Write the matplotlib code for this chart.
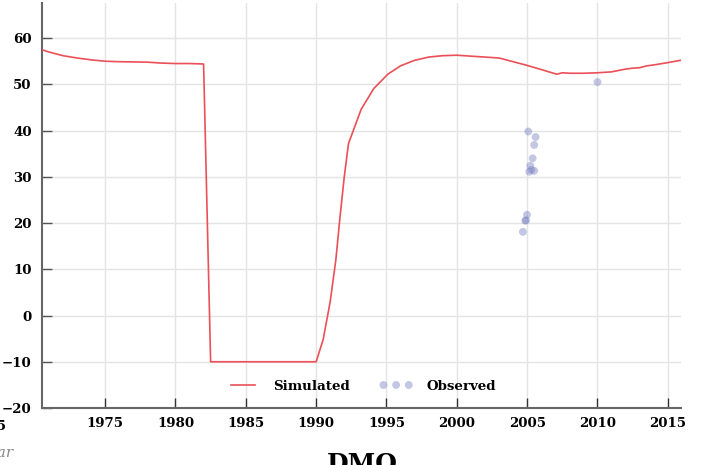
import matplotlib
matplotlib.use('Agg')
import matplotlib.pyplot as plt
from matplotlib.lines import Line2D
from matplotlib.legend_handler import HandlerLine2D

# simulated series (decimal years)
sim_year = [1970.5, 1971.0, 1971.5, 1972.0, 1973.0, 1974.0, 1975.0, 1976.0,
            1978.0, 1979.0, 1980.0, 1981.0, 1982.0, 1982.5, 1984.0, 1986.0,
            1988.0, 1990.0, 1990.5, 1991.0, 1991.4, 1991.7, 1992.0, 1992.3,
            1993.2, 1994.1, 1995.1, 1996.0, 1997.0, 1998.0, 1999.0, 2000.0,
            2001.0, 2002.0, 2003.0, 2004.0, 2005.0, 2006.0, 2007.1, 2007.5,
            2008.0, 2009.0, 2010.0, 2011.0, 2012.0, 2012.5, 2013.0, 2013.5,
            2014.0, 2015.0, 2015.9]
sim_value = [57.5, 57.0, 56.6, 56.2, 55.7, 55.3, 55.0, 54.9,
             54.8, 54.6, 54.5, 54.5, 54.4, -10.0, -10.0, -10.0,
             -10.0, -10.0, -5.2, 3.0, 12.0, 21.4, 30.0, 37.2,
             44.6, 49.1, 52.2, 54.0, 55.2, 55.9, 56.2, 56.3,
             56.1, 55.9, 55.7, 54.9, 54.1, 53.2, 52.2, 52.5,
             52.4, 52.4, 52.5, 52.7, 53.3, 53.5, 53.6, 54.0,
             54.2, 54.7, 55.2]

# observed points
obs_year = [2005.08, 2005.6, 2005.5, 2005.39, 2005.22, 2005.15, 2005.3,
            2005.5, 2004.99, 2004.87, 2004.92, 2004.7, 2010.0]
obs_value = [39.8, 38.6, 36.9, 34.0, 32.4, 31.1, 31.5,
             31.3, 21.8, 20.5, 20.6, 18.1, 50.5]

x_ticks = [1975, 1980, 1985, 1990, 1995, 2000, 2005, 2010, 2015]
y_ticks = [-20, -10, 0, 10, 20, 30, 40, 50, 60]

plt.rcParams['font.family'] = ['DejaVu Serif']
plt.rcParams['font.weight'] = 'bold'

fig = plt.figure(figsize=(7.04, 4.65), dpi=100)
ax = fig.add_axes([0.059, 0.1226, 0.908, 0.871])

ax.plot(sim_year, sim_value, color='#eb4f57', lw=1.2, label='Simulated', zorder=3)
ax.scatter(obs_year, obs_value, s=32, color='#7b84c2', alpha=0.45,
           edgecolors='none', label='Observed', zorder=4)

ax.set_xlim(1970.48, 2015.92)
ax.set_ylim(-20, 67.6)
ax.set_xticks(x_ticks)
ax.set_yticks(y_ticks)
ax.set_yticklabels(['\u221220', '\u221210', '0', '10', '20', '30', '40', '50', '60'])
ax.grid(color='#e4e4e4', lw=1)
ax.set_axisbelow(True)

for side in ['top', 'right']:
    ax.spines[side].set_visible(False)
for side in ['left', 'bottom']:
    ax.spines[side].set_color('#666666')
    ax.spines[side].set_linewidth(1.5)

ax.tick_params(axis='x', direction='in', length=7, width=1, color='#333333',
               pad=6.5, labelsize=9.6)
ax.tick_params(axis='y', direction='in', length=7, width=1, color='#555555',
               pad=7, labelsize=9.6)

# line handle shorter than the box so the dots can spread wider
leg = ax.legend(loc='lower center', ncol=2, frameon=False, fontsize=9.6,
                handlelength=2.5, handletextpad=1.0, columnspacing=2.2,
                scatterpoints=3, scatteryoffsets=[0.5], borderaxespad=0.75,
                handler_map={Line2D: HandlerLine2D(numpoints=2, marker_pad=0.35)})

# bits of neighbouring panels / title cut by the crop
fig.text(6 / 704, (465 - 426) / 465, '2015', ha='right', va='center',
         fontsize=9.6, fontweight='bold')
fig.text(13 / 704, (465 - 453) / 465, 'Year', ha='right', va='center',
         fontsize=11, style='italic', fontweight='normal', color='#888888')
fig.text(0.514, (465 - 452) / 465, 'DMO', ha='center', va='top',
         fontsize=18, fontweight='bold')

fig.savefig('out.png', dpi=100)
